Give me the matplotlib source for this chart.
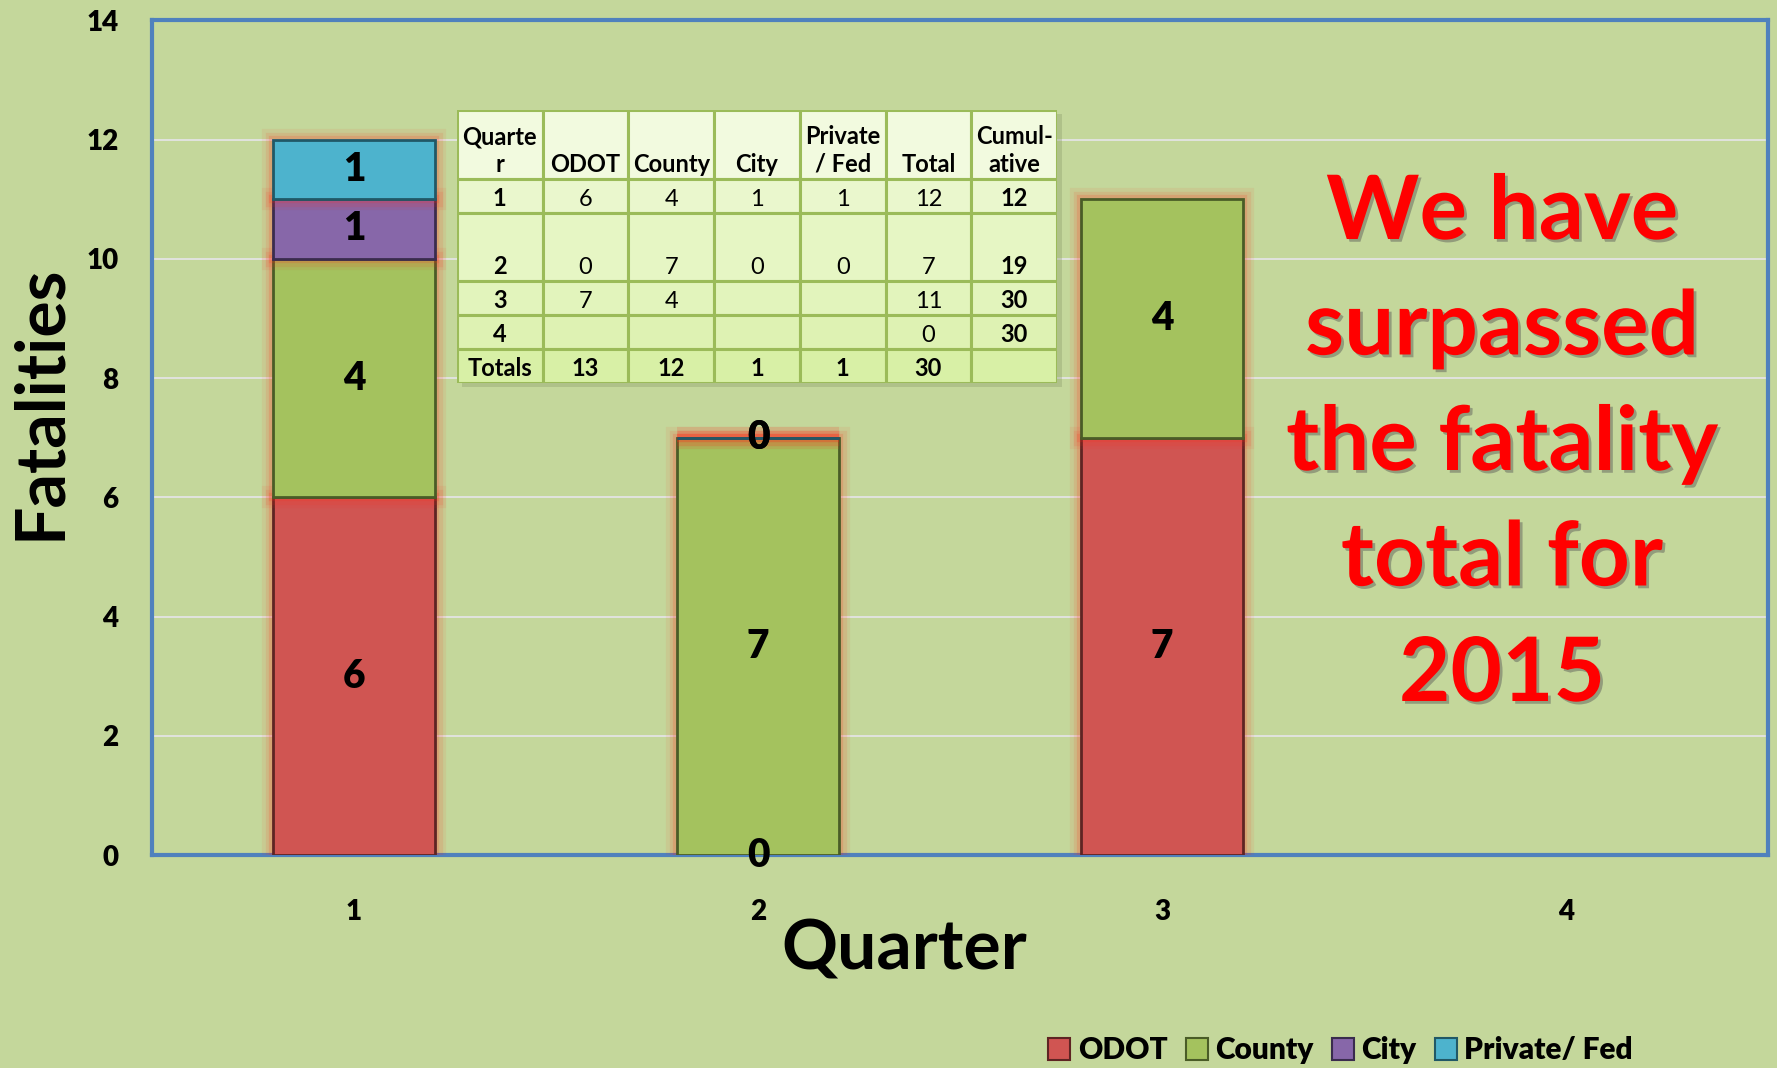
import numpy as np
import matplotlib.pyplot as plt
import matplotlib.patheffects as pe
from matplotlib.patches import Rectangle, Patch

plt.rcParams['font.family'] = ['Lato', 'DejaVu Sans']
plt.rcParams['font.weight'] = 'bold'

# data
quarters = ['1', '2', '3', '4']
odot = [6, 0, 7, np.nan]
county = [4, 7, 4, np.nan]
city = [1, 0, np.nan, np.nan]
private_fed = [1, 0, np.nan, np.nan]
quarter_total = [12, 7, 11, 0]
cumulative = [12, 19, 30, 30]
column_totals = [13, 12, 1, 1, 30]
y_ticks = [0, 2, 4, 6, 8, 10, 12, 14]

series_names = ['ODOT', 'County', 'City', 'Private/ Fed']
series_values = [odot, county, city, private_fed]
series_colors = ['#D05552', '#A4C25E', '#8767A9', '#4DB3CD']
edge_colors = ['#5E2423', '#4A5C27', '#3A2C4E', '#215866']

table_header = ['Quarte\nr', 'ODOT', 'County', 'City', 'Private\n/ Fed', 'Total', 'Cumul-\native']

bg = '#C4D79B'
fig = plt.figure(figsize=(17.77, 10.68), dpi=100, facecolor=bg)
ax = fig.add_axes([0.0855, 0.1994, 0.9095, 0.7816])
ax.set_facecolor(bg)

x = np.arange(1, len(quarters) + 1)
# soft red glow round every segment
glow = [pe.Stroke(linewidth=16, foreground='#FF2A1A', alpha=0.07),
        pe.Stroke(linewidth=11, foreground='#FF2A1A', alpha=0.10),
        pe.Stroke(linewidth=6, foreground='#FF2A1A', alpha=0.16),
        pe.Normal()]

# stacked bars
bottoms = np.zeros(len(quarters))
for vals, name, col, ec in zip(series_values, series_names, series_colors, edge_colors):
    vals = np.array(vals, dtype=float)
    ok = ~np.isnan(vals)
    bars = ax.bar(x[ok], vals[ok], bottom=bottoms[ok], width=0.4, color=col,
                  edgecolor=ec, linewidth=2, zorder=3)
    for b in bars:
        b.set_path_effects(glow)
    for xi, v, b0 in zip(x[ok], vals[ok], bottoms[ok]):
        ax.text(xi, b0 + v / 2, str(int(v)), ha='center', va='center',
                fontsize=28, fontweight='heavy', color='black', zorder=5)
    bottoms[ok] += vals[ok]

ax.set_xlim(0.5, 4.5)
ax.set_ylim(0, 14)
ax.set_yticks(y_ticks)
ax.set_yticklabels([str(t) for t in y_ticks], fontsize=20, fontweight='heavy')
ax.set_xticks(x)
ax.set_xticklabels(quarters, fontsize=20, fontweight='heavy')
ax.tick_params(axis='y', length=0, pad=24)
ax.tick_params(axis='x', length=0, pad=32)
ax.grid(axis='y', color='#E4E4E4', linewidth=1.3)
ax.set_axisbelow(True)
for s in ax.spines.values():
    s.set_color('#4F81BD')
    s.set_linewidth(3)

fig.text(40 / 1777, 1 - 402 / 1068, 'Fatalities', rotation=90, ha='center', va='center',
         fontsize=49, fontweight='bold')
fig.text(904 / 1777, 1 - 950 / 1068, 'Quarter', ha='center', va='center',
         fontsize=50, fontweight='bold')

proxies = [Patch(facecolor=c, edgecolor=e, linewidth=1.5) for c, e in zip(series_colors, edge_colors)]
fig.legend(handles=proxies, labels=series_names, loc='center right',
           bbox_to_anchor=(1660 / 1777, 1 - 1050 / 1068), ncol=4, frameon=False,
           prop={'size': 21.5, 'weight': 'heavy'}, handlelength=0.75, handleheight=0.75,
           columnspacing=0.6, handletextpad=0.25)

# message
fig.text(1502 / 1777, 1 - 444 / 1068, 'We have\nsurpassed\nthe fatality\ntotal for\n2015',
         ha='center', va='center', multialignment='center', fontsize=64,
         fontweight='bold', color='#FF0000', linespacing=1.5,
         path_effects=[pe.withSimplePatchShadow(offset=(2, -2), shadow_rgbFace='#555555', alpha=0.45)])

# summary table
row_h = [69, 34, 68, 34, 34, 34]
row_fill = ['#F2FADF', '#EAF7CD', '#E6F6C4', '#E2F4BC', '#DEF2B3', '#D8F0A6']
tab = fig.add_axes([457 / 1777, 1 - 383 / 1068, 600 / 1777, 273 / 1068])
tab.set_xlim(0, 7)
tab.set_ylim(sum(row_h), 0)
tab.axis('off')
tab.add_patch(Rectangle((0.06, 4), 7, sum(row_h), facecolor='#8A9A6A', alpha=0.35,
                        clip_on=False, zorder=0))

rows = [table_header]
for i, q in enumerate(quarters):
    cells = [odot[i], county[i], city[i], private_fed[i]]
    cells = ['' if np.isnan(c) else str(int(c)) for c in cells]
    rows.append([q] + cells + [str(quarter_total[i]), str(cumulative[i])])
rows.append(['Totals'] + [str(t) for t in column_totals] + [''])

y0 = 0
for r, (cells, h) in enumerate(zip(rows, row_h)):
    for c, txt in enumerate(cells):
        tab.add_patch(Rectangle((c, y0), 1, h, facecolor=row_fill[r], edgecolor='#9BBB59',
                                linewidth=2.2, zorder=1))
        bold = r == 0 or c == 0 or c == 6 or r == len(rows) - 1
        tab.text(c + 0.5, y0 + h - 7, txt, ha='center', va='baseline',
                 fontsize=17, fontweight='bold' if bold else 'normal',
                 linespacing=1.25, zorder=2)
    y0 += h

fig.savefig('out.png', dpi=100, facecolor=bg)
